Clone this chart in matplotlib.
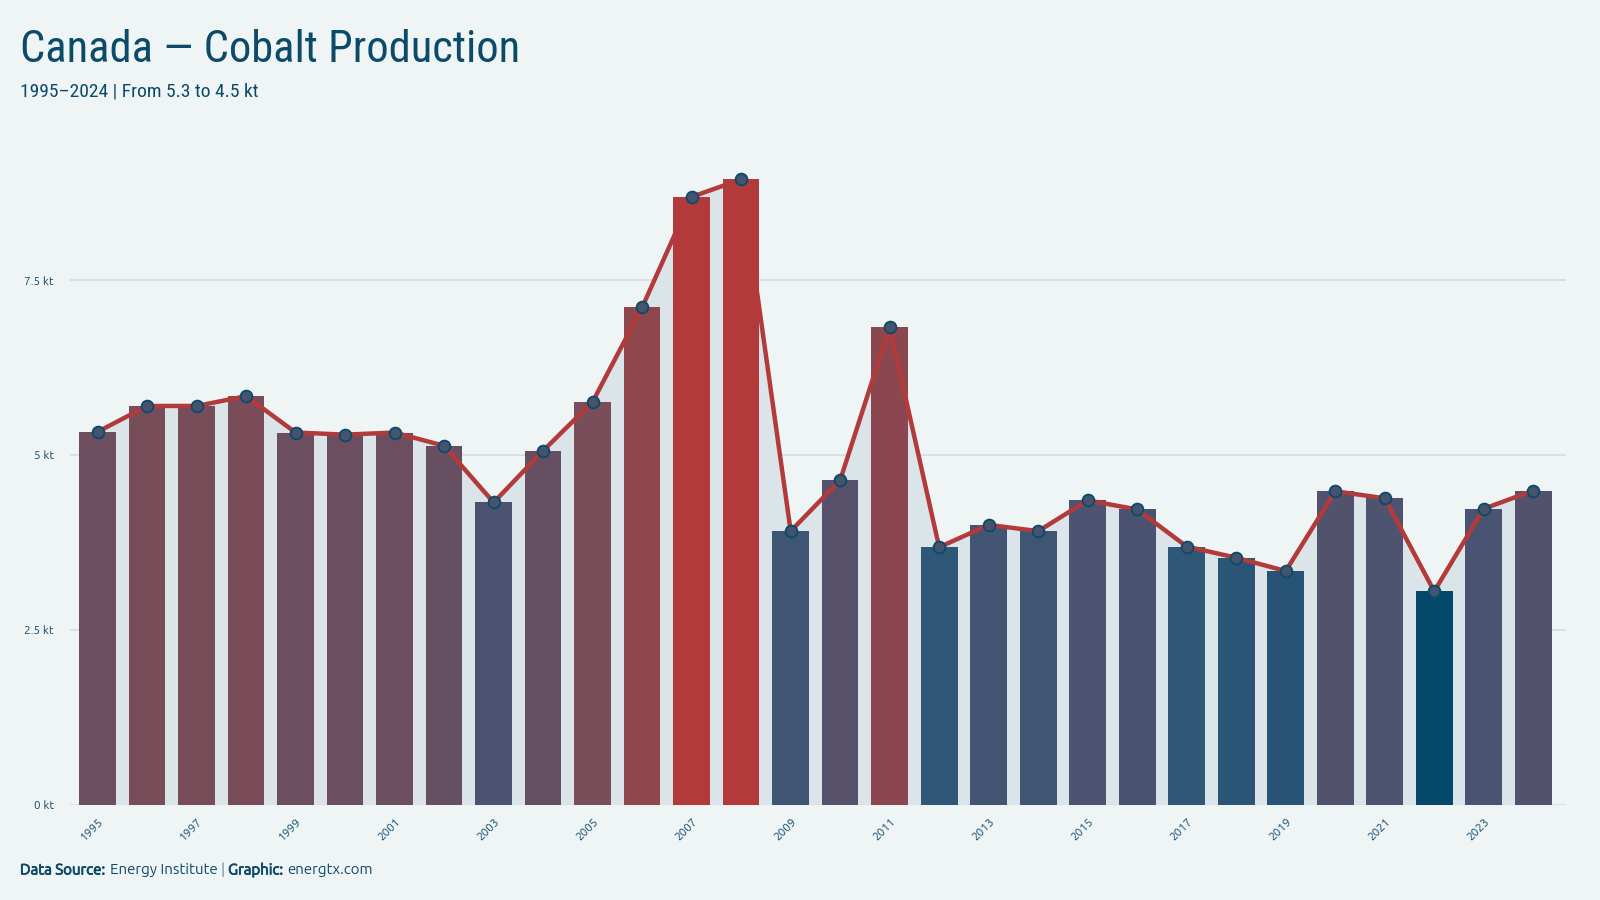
import matplotlib
matplotlib.use("Agg")
import matplotlib.pyplot as plt
import matplotlib.patheffects as pe
from matplotlib.colors import LinearSegmentedColormap, Normalize
from matplotlib import font_manager

# data (kt)
years = list(range(1995, 2025))
production = [5.33, 5.70, 5.70, 5.84, 5.32, 5.29, 5.32, 5.13, 4.32, 5.06,
              5.76, 7.11, 8.69, 8.94, 3.91, 4.64, 6.83, 3.68, 4.00, 3.91,
              4.35, 4.22, 3.69, 3.53, 3.34, 4.48, 4.38, 3.05, 4.23, 4.49]
ytick_vals = [0, 2.5, 5, 7.5]
ytick_labels = ["0 kt", "2.5 kt", "5 kt", "7.5 kt"]

BG = "#eff5f5"
DARK = "#0c4a6a"
RED = "#b33a3a"
FILL = "#dae4e9"
GRID = "#d3dde2"

cmap = LinearSegmentedColormap.from_list("bluered", [
    (0.0, "#04496a"), (0.05, "#285477"), (0.11, "#2f5777"), (0.16, "#445473"),
    (0.22, "#4d5370"), (0.34, "#654f63"), (0.45, "#784d5a"), (0.69, "#8f464c"),
    (0.96, "#b33a3a"), (1.0, "#b33a3a")])
norm = Normalize(min(production), max(production))

installed = {f.name for f in font_manager.fontManager.ttflist}
title_family = [f for f in ['Ubuntu Condensed', 'Roboto Condensed', 'Ubuntu'] if f in installed] + ['DejaVu Sans']

plt.rcParams['font.family'] = ['Ubuntu', 'Liberation Sans', 'DejaVu Sans']

fig = plt.figure(figsize=(16, 9), dpi=100, facecolor=BG)
ax = fig.add_axes([0.044, 0.106, 0.935, 0.746])
ax.set_facecolor(BG)

ax.fill_between(years, production, 0, color=FILL, zorder=1, lw=0)
ax.bar(years, production, width=0.74, color=[cmap(norm(v)) for v in production], zorder=2)
ax.plot(years, production, color=RED, lw=3.2, zorder=3,
        marker="o", markersize=8.5, markerfacecolor="#44536e",
        markeredgecolor=DARK, markeredgewidth=1.3)

ax.set_xlim(1995 - 0.55, 2024 + 0.67)
ax.set_ylim(0, 9.6)
ax.set_yticks(ytick_vals)
ax.set_yticklabels(ytick_labels)
ax.set_xticks(years[::2])
ax.set_xticklabels([str(y) for y in years[::2]], rotation=45, ha="right",
                   rotation_mode="anchor")
ax.tick_params(axis="both", length=0, labelcolor=DARK)
ax.tick_params(axis="y", pad=12, labelsize=8.5)
ax.tick_params(axis="x", pad=8, labelsize=8.5)
ax.grid(axis="y", color=GRID, lw=1.2, zorder=0)
ax.set_axisbelow(True)
for s in ax.spines.values():
    s.set_visible(False)

fig.text(0.0125, 0.945, "Canada — Cobalt Production", fontsize=32, color=DARK,
         family=title_family, va="center")
fig.text(0.0125, 0.898, "1995–2024 | From 5.3 to 4.5 kt", fontsize=14, color=DARK,
         family=title_family, va="center")

# footer with bold pieces (faked bold by stroking)
parts = [("Data Source: ", True), ("Energy Institute ", False), ("| ", False),
         ("Graphic: ", True), ("energtx.com", False)]
fig.canvas.draw()
r = fig.canvas.get_renderer()
x = 20
for txt, bold in parts:
    col = "#6b8797" if txt == "| " else DARK
    t = fig.text(x / 1600, 1 - 870 / 900, txt, fontsize=10.8, color=col, va="center")
    if bold:
        t.set_path_effects([pe.withStroke(linewidth=0.6, foreground=col)])
    x = t.get_window_extent(r).x1 + (1 if bold else 0)

fig.savefig("out.png", dpi=100, facecolor=BG)
